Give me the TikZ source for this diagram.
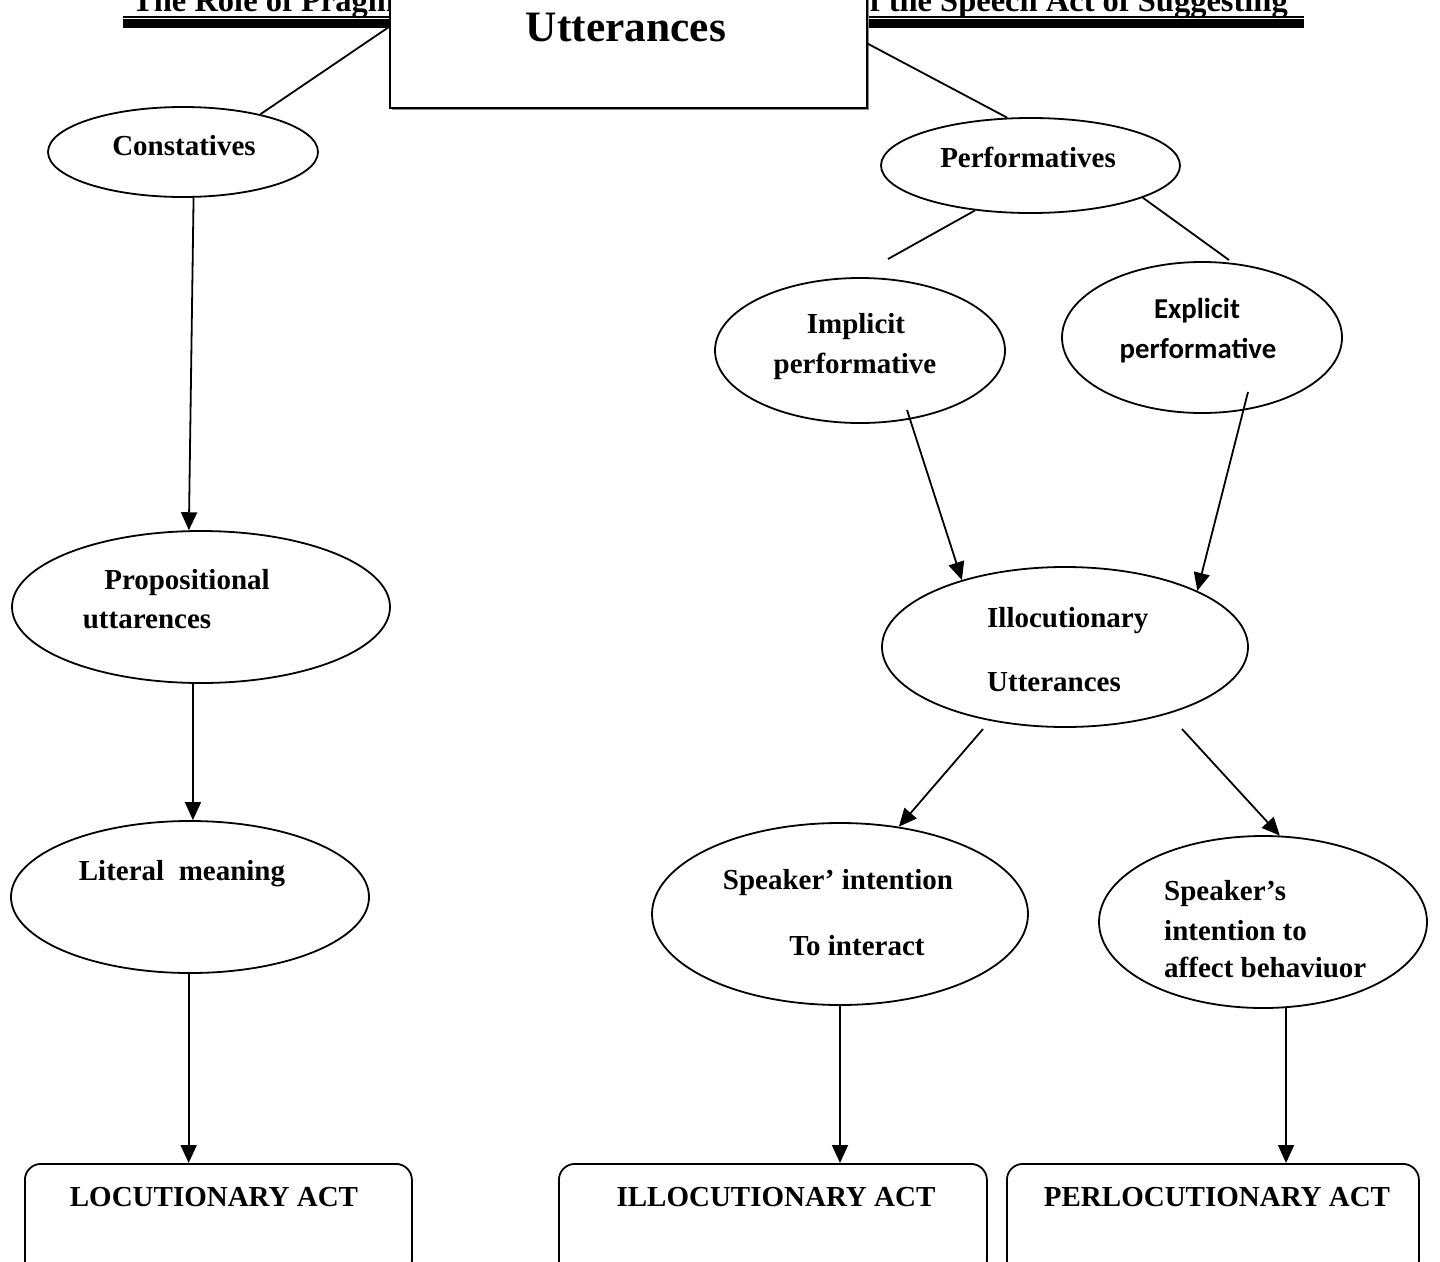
\documentclass[tikz,border=0pt]{standalone}
\usepackage{fontspec}
\setmainfont{Liberation Serif}
\newfontfamily\calibrifont{Carlito}
\usetikzlibrary{shapes.geometric,arrows.meta}
\begin{document}
\begin{tikzpicture}[x=1pt,y=-1pt,
  every node/.style={inner sep=0pt,font=\bfseries\fontsize{29}{34}\selectfont},
  oval/.style={draw,ellipse,line width=1.8pt,inner sep=0pt},
  actbox/.style={draw,rounded corners=16pt,line width=1.8pt,minimum height=113pt,anchor=north west},
  link/.style={line width=1.8pt},
  arr/.style={line width=1.8pt,-{Triangle[width=16pt,length=18pt]}},
  lbl/.style={anchor=base},
  lblw/.style={anchor=base west}]
\useasboundingbox (0,0) rectangle (1440,1261);
\clip (0,0) rectangle (1440,1261);

% running title with double rule
\node[lblw,font=\bfseries\fontsize{32.5}{36}\selectfont] (titleL) at (132,11) {The Role of Pragmatics};
\node[anchor=base east,font=\bfseries\fontsize{32.5}{36}\selectfont] (titleR) at (1288,11) {of the Speech Act of Suggesting};
\draw[line width=1.7pt] (123,16.8) -- (1304,16.8);
\draw[line width=8.7pt] (123,23.3) -- (1304,23.3);

% top box
\fill[black!45] (391.5,-10) rectangle (868.5,109.5);
\node[draw,fill=white,line width=1.8pt,minimum width=477pt,minimum height=120pt,anchor=north west] (utt) at (389,-13) {};
\node[lbl,font=\bfseries\fontsize{43.4}{50}\selectfont] (uttT) at (626,41) {Utterances};

% first level
\node[oval,minimum width=270pt,minimum height=90pt] (cons) at (183,152) {};
\node[lbl] (consT) at (184,155) {Constatives};
\node[oval,minimum width=299pt,minimum height=95pt] (perf) at (1030.5,165.5) {};
\node[lbl] (perfT) at (1028,167) {Performatives};
\draw[link] (utt.175.7) -- (cons.26);
\draw[link] (utt.1.2) -- (perf.116);

% performative branches
\coordinate (pl) at (888,259);
\coordinate (pr) at (1229,260);
\draw[link] (perf.-141) -- (pl);
\draw[link] (perf.-16) -- (pr);

\node[oval,minimum width=290pt,minimum height=145pt] (imp) at (860,350.5) {};
\node[lbl] (impT1) at (856,333) {Implicit};
\node[lbl] (impT2) at (855,373) {performative};
\node[oval,minimum width=280pt,minimum height=151pt] (exp) at (1202,337.5) {};
\node[lbl,font=\calibrifont\bfseries\fontsize{28.8}{34}\selectfont] (expT1) at (1197,318) {Explicit};
\node[lbl,font=\calibrifont\bfseries\fontsize{28.8}{34}\selectfont] (expT2) at (1198,358) {performative};

% illocutionary utterances
\node[oval,minimum width=366pt,minimum height=160pt] (ill) at (1065,647) {};
\node[lblw] (illT1) at (987,627) {Illocutionary};
\node[lblw] (illT2) at (987,691) {Utterances};
\coordinate (ia) at (907,410);
\coordinate (ea) at (1248,392);
\draw[arr] (ia) -- (ill.147);
\draw[arr] (ea) -- (ill.23);

% speaker intentions
\node[oval,minimum width=376pt,minimum height=182pt] (si) at (840,914) {};
\node[lbl] (siT1) at (838,889) {Speaker’ intention};
\node[lbl] (siT2) at (857,955) {To interact};
\node[oval,minimum width=328pt,minimum height=172pt] (sb) at (1263,922) {};
\node[lblw] (sbT1) at (1164,900) {Speaker’s};
\node[lblw] (sbT2) at (1164,940) {intention to};
\node[lblw] (sbT3) at (1164,977) {affect behaviuor};
\coordinate (il) at (983,729);
\coordinate (ir) at (1182,729);
\draw[arr] (il) -- (si.56);
\draw[arr] (ir) -- (sb.79);

% constative column
\node[oval,minimum width=378pt,minimum height=152pt] (prop) at (201,607) {};
\node[lbl] (propT1) at (187,589) {Propositional};
\node[lbl] (propT2) at (147,628) {uttarences};
\node[oval,minimum width=358pt,minimum height=152pt] (lit) at (190,897) {};
\node[lbl] (litT) at (182,880) {Literal\ \ meaning};
\draw[arr] (cons.-77) -- (prop.99);
\draw[arr] (prop.-96) -- (prop.-96 |- lit.north);

% speech acts
\node[actbox,minimum width=387pt] (loc) at (24,1163) {};
\node[lbl] (locT) at (214,1206) {LOCUTIONARY ACT};
\node[actbox,minimum width=428pt] (illa) at (558,1163) {};
\node[lbl] (illaT) at (776,1206) {ILLOCUTIONARY ACT};
\node[actbox,minimum width=412pt] (per) at (1006,1163) {};
\node[lbl] (perT) at (1217,1206) {PERLOCUTIONARY ACT};

\draw[arr] (lit.-91) -- (lit.-91 |- loc.north);
\draw[arr] (si.south) -- (si.south |- illa.north);
\draw[arr] (sb.-75) -- (sb.-75 |- per.north);
\end{tikzpicture}
\end{document}
